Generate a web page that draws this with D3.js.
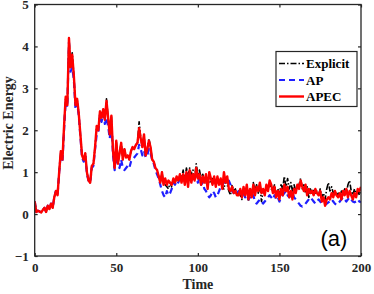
<!DOCTYPE html>
<html>
<head>
<meta charset="utf-8">
<script src="https://cdn.jsdelivr.net/npm/d3@7"></script>
<style>
body { margin: 0; background: #fff; }
text { font-family: "Liberation Serif", "Times New Roman", serif; font-weight: bold; }
</style>
</head>
<body>
<svg id="viz" width="374" height="294"></svg>
<script>
// time axis runs 0..200 in steps of 1
var timeStart = 0;

var apecValues = [
0.30,0.05,0.08,0.06,0.04,0.10,0.15,0.05,0.20,0.12,
0.25,0.15,0.40,0.55,0.45,1.00,1.50,1.30,2.10,2.80,
2.60,4.20,3.50,3.80,3.30,2.60,2.75,2.40,1.90,1.40,
1.30,1.45,1.00,0.80,0.75,1.15,1.20,1.60,2.10,2.00,
2.45,2.30,2.50,2.25,2.70,2.30,1.90,2.35,1.50,1.10,
1.75,1.20,1.45,1.70,1.30,1.55,1.35,1.40,1.30,1.50,
1.60,1.55,1.65,1.70,2.05,1.80,1.60,1.90,1.40,1.55,
1.75,1.60,1.30,1.25,1.10,1.05,0.90,0.75,1.00,0.70,
0.85,0.70,0.80,0.75,0.70,0.85,0.75,0.90,0.80,0.95,
0.75,0.95,0.70,1.00,0.65,1.05,0.75,0.95,0.80,1.10,
0.85,0.95,0.70,0.90,0.75,0.95,0.60,1.00,0.85,0.70,
0.90,0.65,0.90,0.70,0.85,0.60,1.00,0.75,0.90,0.60,
0.55,0.65,0.50,0.55,0.45,0.45,0.60,0.40,0.65,0.45,
0.70,0.35,0.60,0.40,0.70,0.45,0.65,0.55,0.75,0.50,
0.60,0.45,0.70,0.55,0.80,0.70,0.50,0.65,0.40,0.55,
0.35,0.60,0.45,0.70,0.55,0.65,0.40,0.55,0.35,0.60,
0.50,0.70,0.60,0.80,0.65,0.55,0.70,0.45,0.60,0.50,
0.55,0.45,0.60,0.50,0.45,0.55,0.30,0.40,0.20,0.35,
0.40,0.35,0.50,0.40,0.55,0.45,0.40,0.50,0.35,0.55,
0.45,0.60,0.40,0.55,0.45,0.35,0.50,0.40,0.60,0.55,
0.65];

var explicitValues = [
0.30,0.05,0.08,0.06,0.04,0.10,0.15,0.05,0.20,0.12,
0.25,0.15,0.40,0.55,0.45,1.00,1.50,1.30,2.10,2.80,
2.60,4.20,3.50,3.85,3.30,2.60,2.75,2.40,1.90,1.40,
1.30,1.45,1.00,0.80,0.75,1.15,1.20,1.60,2.10,2.00,
2.45,2.30,2.50,2.25,2.75,2.30,1.90,2.35,1.50,1.10,
1.75,1.20,1.45,1.70,1.30,1.55,1.35,1.40,1.30,1.50,
1.60,1.55,1.65,1.70,2.20,1.80,1.60,1.90,1.40,1.55,
1.80,1.60,1.30,1.25,1.10,1.05,0.90,0.75,1.00,0.70,
0.70,0.65,0.60,0.75,0.65,0.80,0.75,0.85,0.80,0.90,
0.85,1.05,0.80,1.10,0.90,1.10,0.95,1.05,0.85,1.20,
0.95,1.05,0.85,0.95,0.80,0.75,0.70,0.80,0.75,0.85,
0.80,0.70,0.80,0.75,0.80,0.65,0.60,0.80,0.70,0.55,
0.45,0.70,0.55,0.60,0.45,0.50,0.45,0.35,0.60,0.40,
0.65,0.30,0.55,0.45,0.75,0.55,0.70,0.50,0.70,0.30,
0.55,0.50,0.65,0.55,0.75,0.60,0.55,0.70,0.45,0.60,
0.50,0.70,0.60,0.90,0.65,0.85,0.60,0.75,0.55,0.70,
0.55,0.65,0.70,0.85,0.60,0.70,0.50,0.65,0.40,0.60,
0.50,0.60,0.50,0.55,0.45,0.60,0.40,0.50,0.35,0.60,
0.75,0.55,0.65,0.50,0.55,0.45,0.50,0.40,0.55,0.45,
0.60,0.50,0.70,0.80,0.55,0.45,0.60,0.50,0.55,0.45,
0.60];

var apValues = [
0.30,0.05,0.08,0.06,0.04,0.10,0.15,0.05,0.20,0.12,
0.25,0.15,0.40,0.55,0.45,1.00,1.45,1.25,2.00,2.70,
2.55,4.10,3.40,3.50,3.20,2.50,2.65,2.35,1.85,1.35,
1.25,1.40,0.95,0.80,0.75,1.10,1.15,1.55,1.90,1.95,
2.35,2.20,2.40,2.15,2.30,2.10,1.80,2.20,1.40,1.05,
1.50,1.15,1.10,1.30,1.10,1.05,1.10,1.15,1.10,1.25,
1.30,1.35,1.40,1.45,1.65,1.55,1.40,1.50,1.35,1.40,
1.55,1.45,1.30,1.20,1.05,0.95,0.85,0.70,0.55,0.45,
0.40,0.55,0.45,0.50,0.60,0.75,0.70,0.80,0.75,0.85,
0.80,0.90,0.85,0.95,0.90,1.00,0.85,0.95,0.85,0.90,
0.75,0.85,0.70,0.75,0.60,0.55,0.45,0.40,0.45,0.55,
0.50,0.40,0.45,0.55,0.65,0.70,0.75,0.80,0.75,0.80,
0.70,0.55,0.50,0.55,0.50,0.55,0.50,0.45,0.50,0.40,
0.45,0.35,0.40,0.35,0.45,0.30,0.25,0.30,0.35,0.30,
0.25,0.30,0.35,0.40,0.45,0.40,0.35,0.45,0.35,0.40,
0.30,0.40,0.45,0.50,0.55,0.45,0.40,0.45,0.50,0.40,
0.35,0.30,0.25,0.20,0.18,0.20,0.25,0.30,0.35,0.40,
0.35,0.30,0.25,0.30,0.35,0.30,0.25,0.22,0.22,0.25,
0.28,0.30,0.35,0.30,0.25,0.22,0.25,0.30,0.35,0.40,
0.35,0.30,0.35,0.40,0.35,0.30,0.28,0.30,0.35,0.30,
0.28];

var xTicks = [0, 50, 100, 150, 200];
var yTicks = [-1, 0, 1, 2, 3, 4, 5];
var seriesNames = ["Explicit", "AP", "APEC"];

var margin = {left: 34.7, right: 13, top: 4.5, bottom: 38};
var width = 374, height = 294;

var svg = d3.select("#viz");

var x = d3.scaleLinear().domain([0, 200]).range([margin.left, width - margin.right]);
var y = d3.scaleLinear().domain([-1, 5]).range([height - margin.bottom, margin.top]);

var series = [
    {name: seriesNames[0], values: explicitValues, color: "#000", width: 1.6, dash: "6,2,1.5,2"},
    {name: seriesNames[1], values: apValues, color: "#1f1fff", width: 2.2, dash: "6,4"},
    {name: seriesNames[2], values: apecValues, color: "#ff0000", width: 2.4, dash: null}
];

var line = d3.line()
    .x(function(d, i){ return x(timeStart + i); })
    .y(function(d){ return y(d); });

var clip = svg.append("clipPath").attr("id", "clip")
    .append("rect")
    .attr("x", x(0)).attr("y", y(5))
    .attr("width", x(200) - x(0)).attr("height", y(-1) - y(5));

series.forEach(function(s){
    svg.append("path")
        .datum(s.values)
        .attr("clip-path", "url(#clip)")
        .attr("fill", "none")
        .attr("stroke", s.color)
        .attr("stroke-width", s.width)
        .attr("stroke-dasharray", s.dash)
        .attr("stroke-linejoin", "round")
        .attr("d", line);
});

// axes, ticks point inward like matlab
var tickLen = 3;
var fmt = d3.format("d");
svg.append("g")
    .attr("transform", "translate(0," + y(-1) + ")")
    .call(d3.axisBottom(x).tickValues(xTicks).tickSize(-tickLen).tickPadding(7).tickFormat(fmt))
    .call(function(g){ g.select(".domain").remove(); });
svg.append("g")
    .attr("transform", "translate(0," + y(5) + ")")
    .call(d3.axisTop(x).tickValues(xTicks).tickSize(-tickLen).tickFormat(""))
    .call(function(g){ g.select(".domain").remove(); });
svg.append("g")
    .attr("transform", "translate(" + x(0) + ",0)")
    .call(d3.axisLeft(y).tickValues(yTicks).tickSize(-tickLen).tickPadding(6).tickFormat(fmt))
    .call(function(g){ g.select(".domain").remove(); });
svg.append("g")
    .attr("transform", "translate(" + x(200) + ",0)")
    .call(d3.axisRight(y).tickValues(yTicks).tickSize(-tickLen).tickFormat(""))
    .call(function(g){ g.select(".domain").remove(); });

svg.selectAll(".tick line").attr("stroke", "#262626").attr("stroke-width", 1.2);
svg.selectAll(".tick text")
    .attr("font-family", "Liberation Serif, serif")
    .attr("font-weight", "bold")
    .attr("font-size", 13)
    .attr("fill", "#262626");

svg.append("rect")
    .attr("x", x(0)).attr("y", y(5))
    .attr("width", x(200) - x(0)).attr("height", y(-1) - y(5))
    .attr("fill", "none")
    .attr("stroke", "#262626")
    .attr("stroke-width", 1.3);

svg.append("text")
    .attr("x", (x(0) + x(200)) / 2)
    .attr("y", 289)
    .attr("text-anchor", "middle")
    .attr("font-size", 14)
    .attr("fill", "#262626")
    .text("Time");

svg.append("text")
    .attr("transform", "translate(13,123) rotate(-90)")
    .attr("text-anchor", "middle")
    .attr("font-size", 14)
    .attr("fill", "#262626")
    .text("Electric Energy");

svg.append("text")
    .attr("x", 334)
    .attr("y", 246)
    .attr("text-anchor", "middle")
    .style("font-family", "Liberation Sans, Arial, sans-serif")
    .style("font-weight", "normal")
    .attr("font-size", 22)
    .attr("fill", "#000")
    .text("(a)");

// legend
var legend = svg.append("g");
legend.append("rect")
    .attr("x", 276).attr("y", 51.5)
    .attr("width", 81).attr("height", 55)
    .attr("fill", "#fff")
    .attr("stroke", "#262626")
    .attr("stroke-width", 1.2);

series.forEach(function(s, i){
    var ly = 63.5 + i * 16.5;
    legend.append("line")
        .attr("x1", 279).attr("x2", 304)
        .attr("y1", ly).attr("y2", ly)
        .attr("stroke", s.color)
        .attr("stroke-width", s.width)
        .attr("stroke-dasharray", s.dash);
    legend.append("text")
        .attr("x", 306).attr("y", ly + 4.5)
        .attr("font-size", 13)
        .attr("fill", "#000")
        .text(s.name);
});
</script>
</body>
</html>
